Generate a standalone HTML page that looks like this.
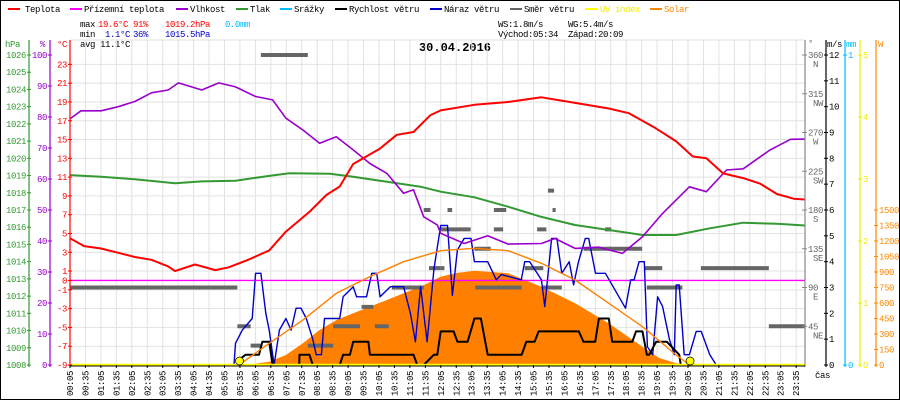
<!DOCTYPE html>
<html><head><meta charset="utf-8"><style>
html,body{margin:0;padding:0;background:#fff}
svg{display:block}
text{font-family:"Liberation Mono",monospace;font-size:9px;letter-spacing:-0.4px}
</style></head><body>
<svg id="c" width="900" height="400" viewBox="0 0 900 400" xmlns="http://www.w3.org/2000/svg">
<rect x="0.5" y="0.5" width="899" height="399" fill="#fff" stroke="#000"/>
<g id="legend">
 <g><rect x="8" y="8" width="12" height="2" fill="#f00"/><text x="25" y="12">Teplota</text></g>
 <g><rect x="70" y="8" width="12" height="2" fill="#f0f"/><text x="84" y="12">Přízemní teplota</text></g>
 <g><rect x="176" y="8" width="12" height="2" fill="#90c"/><text x="190" y="12">Vlhkost</text></g>
 <g><rect x="236" y="8" width="12" height="2" fill="#393"/><text x="250" y="12">Tlak</text></g>
 <g><rect x="280" y="8" width="12" height="2" fill="#0bf"/><text x="294" y="12">Srážky</text></g>
 <g><rect x="335" y="8" width="12" height="2" fill="#000"/><text x="349" y="12">Rychlost větru</text></g>
 <g><rect x="430" y="8" width="12" height="2" fill="#00c"/><text x="444" y="12">Náraz větru</text></g>
 <g><rect x="510" y="8" width="12" height="2" fill="#666"/><text x="524" y="12">Směr větru</text></g>
 <g><rect x="585" y="8" width="12" height="2" fill="#ff0"/><text x="600" y="12" fill="#ee0">UV index</text></g>
 <g><rect x="650" y="8" width="12" height="2" fill="#f80"/><text x="664" y="12" fill="#f80">Solar</text></g>
</g>
<g>
 <text x="80" y="27">max</text><text x="98" y="27" fill="#f00">19.6°C</text><text x="133" y="27" fill="#f00">91%</text><text x="165" y="27" fill="#f00">1019.2hPa</text><text x="225" y="27" fill="#0bf">0.0mm</text>
 <text x="80" y="37">min</text><text x="105" y="37" fill="#00c">1.1°C</text><text x="133" y="37" fill="#00c">36%</text><text x="165" y="37" fill="#00c">1015.5hPa</text>
 <text x="80" y="47">avg</text><text x="100" y="47">11.1°C</text>
 <text x="498" y="27">WS:1.8m/s</text><text x="568" y="27">WG:5.4m/s</text>
 <text x="498" y="37">Východ:05:34</text><text x="568" y="37">Západ:20:09</text>
</g>
<text x="455" y="51" text-anchor="middle" style="font-size:12px;font-weight:bold;letter-spacing:0">30.04.2016</text>
<g id="grid"></g><g id="marks"></g><g id="axes"></g>
</svg>
<script>
// ---- data (hours, values) ----
const tempH=[0,0.54,1.09,1.63,2.18,2.72,3.26,3.48,4.13,4.79,5.22,5.88,6.53,7.07,7.83,8.38,8.81,9.25,10.1,10.66,11.2,11.75,12.08,13.17,14.26,15.34,16.43,17.52,18.17,19.04,19.7,20.24,20.68,21.22,21.87,22.42,22.96,23.5,24];
const tempV=[4.65,3.66,3.4,2.95,2.5,2.2,1.5,1.0,1.7,1.1,1.4,2.24,3.2,5.2,7.3,9.1,10,12.4,14.0,15.5,15.8,17.6,18.1,18.7,19.0,19.5,18.9,18.3,17.8,16.2,14.8,13.2,13.0,11.4,10.9,10.3,9.2,8.7,8.6];
const humH=[0,0.44,1.09,1.63,2.18,2.72,3.26,3.59,4.35,4.9,5.44,6.09,6.64,7.07,7.62,8.16,8.7,9.25,9.79,10.34,10.88,11.2,11.53,11.97,12.08,12.84,13.6,14.26,15.34,15.78,16.43,17.19,17.96,18.61,19.26,20.13,20.68,21.33,21.87,22.74,23.4,24];
const humV=[78.8,82,82,83.3,85,87.8,88.7,91,88.7,91,89.7,86.6,85.5,79.6,75.8,71.5,73.6,69.4,65,61.8,55.4,56.5,47.8,45.2,42.5,39.2,41.7,39,39.2,40.8,37.6,38,36,41.4,48.9,57.5,55.9,62.9,63.3,69.4,72.8,72.9];
const presH=[0,1.09,2.18,3.48,4.35,5.44,6.53,7.18,8.49,9.25,10.34,11.43,12.08,13.17,14.26,15.34,16.43,17.52,18.61,19.7,20.79,21.87,22.96,24];
const presV=[1019.03,1018.93,1018.78,1018.55,1018.66,1018.7,1018.98,1019.13,1019.1,1018.93,1018.64,1018.35,1018.06,1017.74,1017.19,1016.6,1016.13,1015.84,1015.55,1015.55,1015.94,1016.26,1016.2,1016.09];
const solTheoH=[5.55,6.53,7.62,8.7,9.79,10.88,12.08,13.17,14.26,15.34,16.43,17.52,18.61,19.7,20.13];
const solTheoV=[0,210,435,694,855,1000,1106,1129,1106,984,823,597,371,97,0];
const solH=[5.77,6.53,7.07,7.62,8.16,8.7,9.25,9.79,10.34,10.88,11.43,12.08,12.6,13.17,14.26,15.34,16.43,17.52,18.61,19.15,19.7,20.13];
const solV=[0,32,97,210,339,435,500,564,629,694,758,855,890,913,887,758,597,403,177,68,16,0];
const windH=[5.55,5.77,6.2,6.31,6.53,6.64,7.5,7.51,7.83,7.94,8.81,8.92,9.14,9.25,9.74,9.79,11.2,11.32,11.53,11.86,11.97,12.08,12.5,12.62,12.95,13.17,13.38,13.6,14.7,14.85,15.12,15.25,16.55,16.7,17.08,17.2,17.52,17.63,18.28,18.4,18.61,18.75,18.83,19.05,19.4,19.8,19.85,24];
const windV=[0.2,0.4,0.4,0.9,0.9,0,0,0.4,0.4,0,0,0.4,0.4,0.9,0.9,0.4,0.4,0,0,0.4,0.4,1.3,1.3,0.9,0.9,1.8,1.8,0.4,0.4,0.9,0.9,1.3,1.3,0.9,0.9,1.8,1.8,0.9,0.9,1.3,1.3,0.4,0.4,0.9,0.9,0.4,0,0];
const gustH=[5.39,5.44,5.66,5.98,6.09,6.26,6.42,6.53,6.69,6.86,7.07,7.24,7.4,7.56,7.73,7.94,8.05,8.22,8.32,8.81,8.92,9.25,9.36,9.68,9.85,10.01,10.12,10.45,10.88,11.1,11.26,11.43,11.64,11.86,12.08,12.3,12.46,12.62,12.84,13.06,13.17,13.6,13.88,14.04,14.69,14.8,14.96,15.34,15.45,15.67,15.84,16.0,16.24,16.38,16.54,16.76,16.87,17.09,17.41,18.06,18.23,18.34,18.5,18.67,18.77,18.94,19.1,19.26,19.48,19.64,19.7,19.8,19.96,20.13,20.35,20.51,20.79,21.0,21.11];
const gustV=[0,0.84,1.35,1.8,3.55,3.55,2.0,1.35,0,1.35,1.8,1.35,2.2,2.2,1.8,1.0,0.4,0.4,1.8,1.8,2.64,3.03,2.64,2.64,3.55,3.55,2.64,3.03,3.03,2.0,0.9,3.03,0.9,3.7,5.4,5.4,2.7,4.45,4.9,4.9,4.0,4.0,3.3,3.5,3.3,4.0,4.0,3.3,2.26,4.9,4.9,3.55,4.0,3.1,4.0,4.9,4.9,3.55,3.55,2.2,3.3,3.3,4.0,4.0,0.7,0.4,2.64,2.26,1.0,0.4,3.1,3.1,0.4,0.4,1.3,1.3,0.4,0,0];
const dirStart=[0,6.26,5.5,5.93,7.78,8.6,9.52,9.95,10.5,11.53,11.7,12.08,12.08,12.3,13.17,13.8,14.8,15.2,15.55,13.2,15.35,16.7,17.4,17.5,18.66,20.5,18.75,22.7,15.7,13.8];
const dirEnd=[5.5,7.78,5.93,6.26,8.6,9.47,9.9,10.4,11.53,11.75,12.08,13.05,12.2,12.45,13.7,14.1,15.4,15.5,15.75,14.7,16.0,17.6,17.6,18.6,19.25,22.7,19.9,23.95,15.8,14.2];
const dirDeg=[90,360,45,22.5,22.5,45,67.5,45,90,180,112.5,157.5,112.5,180,135,157.5,112.5,157.5,202.5,90,90,135,157.5,135,112.5,112.5,90,45,180,180];
const hourTicks=[];for(let i=0;i<48;i++){hourTicks.push(i*0.5+5/60);}
const tempTicks=[-9,-7,-5,-3,-1,0,1,3,5,7,9,11,13,15,17,19,21,23];
const hpaTicks=[1008,1009,1010,1011,1012,1013,1014,1015,1016,1017,1018,1019,1020,1021,1022,1023,1024,1025,1026];
const humTicks=[0,10,20,30,40,50,60,70,80,90,100];
const dirTicks=[45,90,135,180,225,270,315,360];
const dirNames=["NE","E","SE","S","SW","W","NW","N"];
const msTicks=[0,1,2,3,4,5,6,7,8,9,10,11,12];
const uvTicks=[0,1,2,3,4,5];
const wTicks=[0,150,300,450,600,750,900,1050,1200,1350,1500];

// ---- scales ----
const X0=70,X1=805,Y0=40,YB=365,YT=55;
const xh=h=>X0+(h-5/60)*30.9;
const yT=v=>YB-(v+9)*9.394;
const yP=v=>YB-(v-1008)*(YB-YT)/18;
const yH=v=>YB-v*(YB-YT)/100;
const yD=v=>YB-v*(YB-YT)/360;
const yM=v=>YB-v*(YB-YT)/12;
const yU=v=>YB-v*(YB-YT)/5;
const yW=v=>YB-v*(YB-210)/1500;
const NS="http://www.w3.org/2000/svg";
function mk(p,tag,at){const e=document.createElementNS(NS,tag);for(const k in at)e.setAttribute(k,at[k]);p.appendChild(e);return e;}
const grid=document.getElementById('grid'),marks=document.getElementById('marks'),axes=document.getElementById('axes');
const svg=document.getElementById('c');
const defs=mk(svg,'defs',{});const cp=mk(defs,'clipPath',{id:'pc'});mk(cp,'rect',{x:X0,y:Y0,width:X1-X0,height:YB-Y0+2});
marks.setAttribute('clip-path','url(#pc)');

// grid
hourTicks.forEach(h=>{const l=mk(grid,'line',{x1:xh(h),x2:xh(h),y1:Y0,y2:YB,stroke:'#e2e2e2','stroke-width':1});

});
tempTicks.filter(t=>t!==0&&t!==-9).forEach(t=>{const l=mk(grid,'line',{x1:X0,x2:X1,y1:yT(t),y2:yT(t),stroke:'#e2e2e2'});

});
mk(grid,'line',{x1:X0,x2:X1,y1:Y0,y2:Y0,stroke:'#e2e2e2'});

function poly(H,V,fy,color,w,name){const pts=H.map((h,i)=>xh(h).toFixed(1)+','+fy(V[i]).toFixed(1)).join(' ');
const p=mk(marks,'polyline',{points:pts,fill:'none',stroke:color,'stroke-width':w,'stroke-linejoin':'round'});

return p;}

// solar fill
{const pts=solH.map((h,i)=>xh(h).toFixed(1)+','+yW(solV[i]).toFixed(1));
const p=mk(marks,'polygon',{points:pts.join(' ')+' '+xh(solH[solH.length-1])+','+YB+' '+xh(solH[0])+','+YB,fill:'#ff8000'});

}
// ground temp (0)
{const l=mk(marks,'line',{x1:X0,x2:X1,y1:yT(0),y2:yT(0),stroke:'#f0f','stroke-width':1.3});

}
// direction
dirDeg.forEach((d,i)=>{const r=mk(marks,'rect',{x:xh(dirStart[i]),y:yD(d)-2,width:Math.max(3,xh(dirEnd[i])-xh(dirStart[i])),height:4,fill:'#666'});

});
poly(gustH,gustV,yM,'#0000cc',1.4,'wind-gust-line');
poly(windH,windV,yM,'#000',2,'wind-speed-line');
poly(solTheoH,solTheoV,yW,'#ff8000',1.4,'solar-theoretical-line');
poly(presH,presV,yP,'#339933',2,'pressure-line');
poly(humH,humV,yH,'#9900cc',1.6,'humidity-line');
poly(tempH,tempV,yT,'#f00',2,'temperature-line');
{const l=mk(marks,'line',{x1:X0,x2:X1,y1:YB,y2:YB,stroke:'#ff0','stroke-width':2.5});

}
[5.57,20.15].forEach(h=>{const c=mk(marks,'circle',{cx:xh(h),cy:YB-4,r:4,fill:'#ff0',stroke:'#000','stroke-width':0.7});

});

// axes
function vaxis(x,color,ticks,fy,labels,anchorLeft,name,title,tx){
 const g=mk(axes,'g',{});
 
 
 mk(g,'line',{x1:x,x2:x,y1:Y0,y2:YB+2,stroke:color,'stroke-width':1.2});
 ticks.forEach((t,i)=>{const y=fy(t);mk(g,'line',{x1:x-2,x2:x+2,y1:y,y2:y,stroke:color});
  const tt=mk(g,'text',{x:anchorLeft?x-3:x+3,y:y+3,fill:color,'text-anchor':anchorLeft?'end':'start'});tt.textContent=labels?labels[i]:t;});
 const ti=mk(g,'text',{x:tx,y:47,fill:color});ti.textContent=title;
}
vaxis(29,'#339933',hpaTicks,yP,null,true,'pressure-axis','hPa',5);
vaxis(50,'#9900cc',humTicks,yH,null,true,'humidity-axis','%',40);
vaxis(70,'#f00',tempTicks,yT,null,true,'temperature-axis','°C',57);
// direction axis
{const g=mk(axes,'g',{});
mk(g,'line',{x1:X1,x2:X1,y1:Y0,y2:YB+2,stroke:'#888','stroke-width':1.2});
dirTicks.forEach((d,i)=>{const y=yD(d);mk(g,'line',{x1:X1-3,x2:X1+2,y1:y,y2:y,stroke:'#888'});
const t=mk(g,'text',{x:X1+3,y:y+3,fill:'#666'});t.textContent=d;
const n=mk(g,'text',{x:X1+8,y:y+12,fill:'#666'});n.textContent=dirNames[i];});
const ti=mk(g,'text',{x:808,y:46,fill:'#666'});ti.textContent='°';}
vaxis(826,'#000',msTicks,yM,null,false,'wind-speed-axis','m/s',827);
vaxis(845,'#0bf',[0,1],v=>YB-v*(YB-YT),null,false,'rain-axis','mm',846);
vaxis(860,'#ee0',uvTicks,yU,null,false,'uv-axis','',861);
vaxis(876,'#f80',wTicks,yW,null,false,'solar-axis','W',878);
// x axis
{const g=mk(axes,'g',{});
mk(g,'line',{x1:X0,x2:X1,y1:YB+1,y2:YB+1,stroke:'#000'});
hourTicks.forEach(h=>{const x=xh(h);mk(g,'line',{x1:x,x2:x,y1:YB,y2:YB+3,stroke:'#000'});
const hh=Math.floor(h),mm=Math.round((h-hh)*60);const lab=String(hh).padStart(2,'0')+':'+String(mm).padStart(2,'0');
const t=mk(g,'text',{x:0,y:0,transform:`translate(${x+3},396) rotate(-90)`});t.textContent=lab;});
const c=mk(g,'text',{x:815,y:378});c.textContent='čas';}
</script>
</body></html>
